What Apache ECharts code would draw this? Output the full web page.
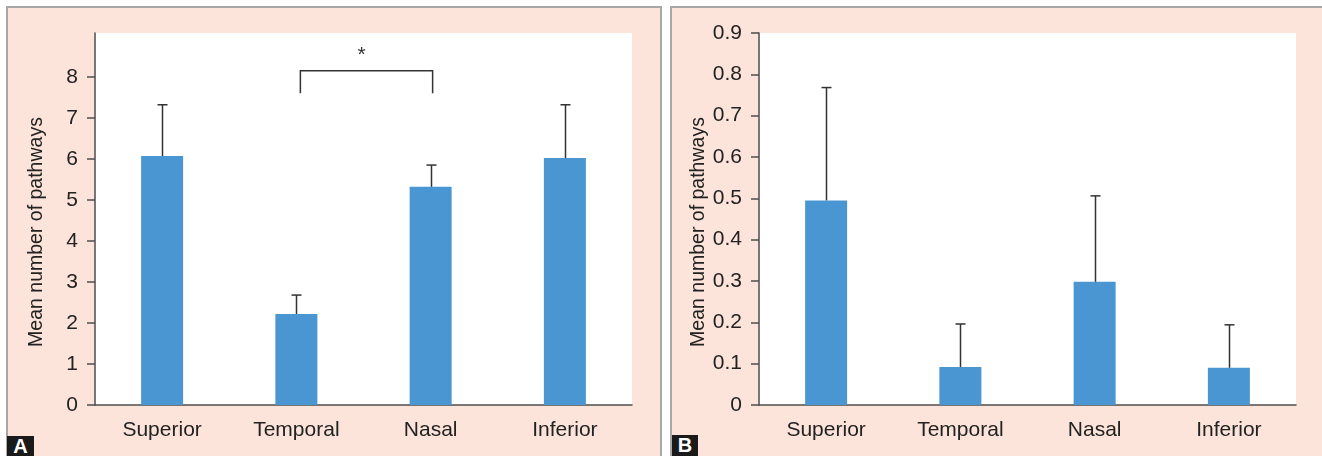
<!DOCTYPE html>
<html>
<head>
<meta charset="utf-8">
<script src="https://cdn.jsdelivr.net/npm/echarts@6/dist/echarts.min.js"></script>
<style>
  html, body { margin: 0; padding: 0; background: #fff; }
  #wrap { position: relative; width: 1322px; height: 456px; overflow: hidden; }
  .panel { position: absolute; top: 6px; height: 460px; background: #fce4da; border: 2px solid #a7a7a7; box-sizing: border-box; }
  .tag { position: absolute; bottom: 0; background: #1a1a1a; color: #fff; font: bold 20px 'Liberation Sans', Arial, sans-serif; line-height: 20px; text-align: center; }
  #chart { position: absolute; left: 0; top: 0; width: 1322px; height: 456px; }
</style>
</head>
<body>
<div id="wrap">
  <div class="panel" style="left:6px;width:656px;"></div>
  <div class="panel" style="left:670px;width:700px;"></div>
  <div class="tag" style="left:7px;width:27px;height:20px;">A</div>
  <div class="tag" style="left:672px;width:26px;height:21px;">B</div>
  <div id="chart"></div>
</div>
<script>
// 数据
const categories = ['Superior', 'Temporal', 'Nasal', 'Inferior'];
const meanA = [6.07, 2.22, 5.32, 6.02];
const sdA = [1.25, 0.46, 0.53, 1.30];
const meanB = [0.495, 0.092, 0.298, 0.09];
const sdB = [0.273, 0.104, 0.208, 0.104];
const ticksA = [0, 1, 2, 3, 4, 5, 6, 7, 8];
const ticksB = [0, 0.1, 0.2, 0.3, 0.4, 0.5, 0.6, 0.7, 0.8, 0.9];
const sigPair = ['Temporal', 'Nasal'];
const sigLevels = [7.6, 8.15];
const sigMark = '*';

const FONT = "'Liberation Sans', Arial, sans-serif";
const axisColor = '#4d4d4d';
const textColor = '#222';

const myChart = echarts.init(document.getElementById('chart'));

const yAxisBase = (gridIndex, max, ticks, fmt) => ({
    type: 'value',
    gridIndex,
    min: 0,
    max,
    name: 'Mean number of pathways',
    nameLocation: 'middle',
    nameGap: 48,
    nameTextStyle: { fontSize: 19.5, color: textColor, fontFamily: FONT, padding: [0, 26, 0, 0] },
    axisLine: { show: true, lineStyle: { color: axisColor, width: 1.5 } },
    axisTick: { show: true, length: 8, customValues: ticks, lineStyle: { color: axisColor, width: 1.5 } },
    axisLabel: { customValues: ticks, margin: 17, fontSize: 21, color: textColor, fontFamily: FONT, formatter: fmt },
    splitLine: { show: false }
});

const xAxisBase = (gridIndex) => ({
    type: 'category',
    gridIndex,
    data: categories,
    axisLine: { show: true, lineStyle: { color: axisColor, width: 1.5 } },
    axisTick: { show: false },
    axisLabel: { margin: 15, fontSize: 21, color: textColor, fontFamily: FONT },
    splitLine: { show: false }
});

// 误差线（只画上半部分）
const errorRender = (params, api) => {
    const top = api.coord([api.value(0), api.value(1)]);
    const end = api.coord([api.value(0), api.value(1) + api.value(2)]);
    const x = Math.round(top[0]) + 0.5;
    return {
        type: 'group',
        children: [
            { type: 'line', shape: { x1: x, y1: top[1], x2: x, y2: end[1] }, style: { stroke: '#333', lineWidth: 1.5 } },
            { type: 'line', shape: { x1: x - 5, y1: end[1], x2: x + 5, y2: end[1] }, style: { stroke: '#333', lineWidth: 1.5 } }
        ]
    };
};

// 显著性括号
const bracketRender = (params, api) => {
    const a = api.coord([api.value(0), sigLevels[0]]);
    const b = api.coord([api.value(1), sigLevels[1]]);
    const c = api.coord([api.value(1), sigLevels[0]]);
    a[0] += 4; b[0] += 2; c[0] += 2;
    const aTop = [a[0], b[1]];
    return {
        type: 'group',
        children: [
            { type: 'polyline', shape: { points: [a, aTop, b, c] }, style: { stroke: '#333', lineWidth: 1.5, fill: null } },
            { type: 'text', x: (a[0] + c[0]) / 2 - 5, y: b[1] - 16, style: { text: sigMark, fontSize: 21, fontFamily: FONT, fill: '#333', align: 'center', verticalAlign: 'middle' } }
        ]
    };
};

const option = {
    animation: false,
    grid: [
        { left: 95, top: 33, width: 537, height: 372, show: true, backgroundColor: '#fff', borderWidth: 0 },
        { left: 759, top: 33, width: 537, height: 372, show: true, backgroundColor: '#fff', borderWidth: 0 }
    ],
    xAxis: [xAxisBase(0), xAxisBase(1)],
    yAxis: [
        yAxisBase(0, 9.07, ticksA, v => String(v)),
        yAxisBase(1, 0.9, ticksB, v => String(Math.round(v * 10) / 10))
    ],
    series: [
        { type: 'bar', xAxisIndex: 0, yAxisIndex: 0, barWidth: 42, data: meanA, itemStyle: { color: '#4a96d2' } },
        { type: 'bar', xAxisIndex: 1, yAxisIndex: 1, barWidth: 42, data: meanB, itemStyle: { color: '#4a96d2' } },
        { type: 'custom', xAxisIndex: 0, yAxisIndex: 0, renderItem: errorRender, z: 3,
          data: categories.map((c, i) => [i, meanA[i], sdA[i]]) },
        { type: 'custom', xAxisIndex: 1, yAxisIndex: 1, renderItem: errorRender, z: 3,
          data: categories.map((c, i) => [i, meanB[i], sdB[i]]) },
        { type: 'custom', xAxisIndex: 0, yAxisIndex: 0, renderItem: bracketRender, z: 3,
          data: [[categories.indexOf(sigPair[0]), categories.indexOf(sigPair[1])]] }
    ]
};

myChart.setOption(option);
</script>
</body>
</html>
